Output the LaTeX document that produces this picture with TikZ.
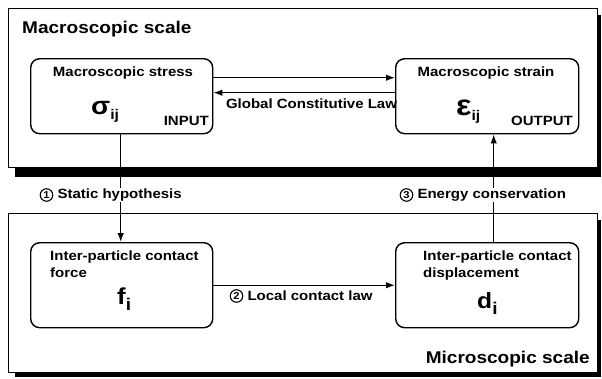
\documentclass[tikz,border=0pt]{standalone}
\usepackage{fontspec}
\setmainfont{Liberation Sans}[FakeStretch=1.12]
\usetikzlibrary{arrows.meta}
\newcommand\fsz[1]{\fontsize{#1}{#1}\selectfont}
\tikzset{
  panel/.style={draw,line width=1.1pt,fill=white,anchor=north west,inner sep=0pt},
  shadow/.style={fill=black},
  box/.style={draw,line width=1.4pt,rounded corners=9pt,anchor=north west,inner sep=0pt},
  lbl/.style={font=\bfseries\fsz{13.4},inner sep=1pt},
  title/.style={font=\bfseries\fsz{17},inner sep=0pt},
  numc/.style={circle,draw,line width=1.1pt,inner sep=0pt,minimum size=12.5pt,font=\bfseries\fsz{10}},
  arr/.style={line width=1.3pt,-{Latex[length=9pt,width=6.5pt]}},
}
\begin{document}
\begin{tikzpicture}[x=1pt,y=-1pt]
\useasboundingbox (0,0) rectangle (602,378);
\fill[white] (0,0) rectangle (602,378);
% top panel
\fill[shadow] (15,166) rectangle (601,177);
\fill[shadow] (596,15) rectangle (601,177);
\node[panel,minimum width=589pt,minimum height=159pt] (macro) at (8,8) {};
% bottom panel
\fill[shadow] (15,371) rectangle (601,377);
\fill[shadow] (596,220) rectangle (601,377);
\node[panel,minimum width=589pt,minimum height=159pt] (micro) at (8,213) {};
\node[title,anchor=base west] (macroT) at (22,33) {Macroscopic scale};
\node[title,anchor=base east] (microT) at (590,363) {Microscopic scale};
% boxes
\node[box,minimum width=182pt,minimum height=75pt] (stress) at (30,58) {};
\node[box,minimum width=183pt,minimum height=75pt] (strain) at (395,58) {};
\node[box,minimum width=182pt,minimum height=85pt] (force) at (30,242) {};
\node[box,minimum width=183pt,minimum height=85pt] (disp) at (395,242) {};
% box texts
\node[lbl] (stressT) at (123,73) {Macroscopic stress};
\node[lbl] (strainT) at (486,73) {Macroscopic strain};
\node[inner sep=0pt,anchor=base west] (sigma) at (91,114) {\bfseries{\fsz{25}σ}\raisebox{-5pt}{\fsz{14}ij}};
\node[inner sep=0pt,anchor=base west] (eps) at (456,115) {\bfseries{\fsz{29}ε}\raisebox{-5pt}{\fsz{14}ij}};
\node[lbl,anchor=base east] (input) at (210,125) {INPUT};
\node[lbl,anchor=base east] (output) at (574,125) {OUTPUT};
\node[lbl,anchor=north west,align=left] (forceT) at (49,250) {Inter-particle contact\\[3pt]force};
\node[lbl,anchor=north west,align=left] (dispT) at (422,250) {Inter-particle contact\\[3pt]displacement};
\node[inner sep=0pt,anchor=base west] (fi) at (117,304) {\bfseries{\fsz{23}f}\raisebox{-6pt}{\fsz{17}i}};
\node[inner sep=0pt,anchor=base west] (di) at (477,308) {\bfseries{\fsz{22}d}\raisebox{-6pt}{\fsz{17}i}};
% connectors
\draw[arr] ([yshift=18.5pt]stress.east) -- ([yshift=18.5pt]strain.west);
\draw[arr] ([yshift=3.5pt]strain.west) -- ([yshift=3.5pt]stress.east);
\draw[arr] ([xshift=-1pt]stress.south) -- ([xshift=-1pt]force.north);
\draw[arr] ([xshift=6.5pt]disp.north) -- ([xshift=6.5pt]strain.south);
\draw[arr] (force.east) -- (disp.west);
% connector labels
\node[lbl] (glob) at (311.5,104) {Global Constitutive Law};
\node[numc] (n1) at (46.5,195) {1};
\node[lbl,anchor=west,fill=white] (t1) at ([xshift=3pt]n1.east) {Static hypothesis};
\node[numc] (n2) at (236.5,296) {2};
\node[lbl,anchor=west] (t2) at ([xshift=3pt]n2.east) {Local contact law};
\node[numc] (n3) at (406.5,195) {3};
\node[lbl,anchor=west,fill=white] (t3) at ([xshift=3pt]n3.east) {Energy conservation};
\end{tikzpicture}
\end{document}
